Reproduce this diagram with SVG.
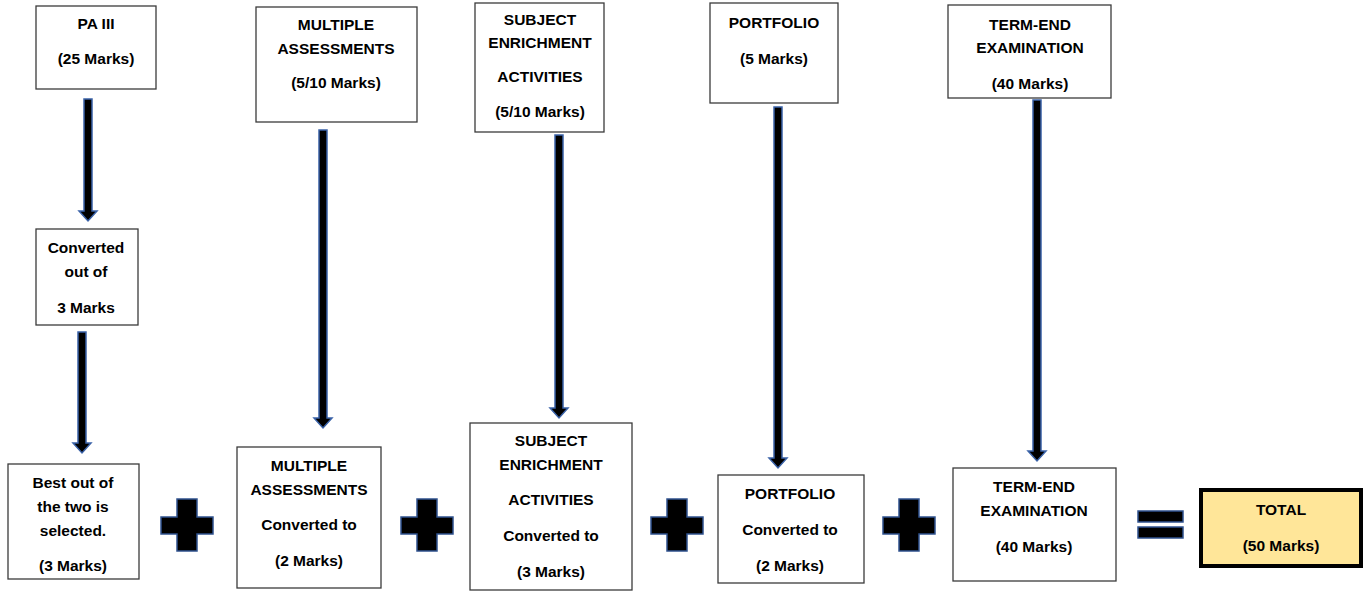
<svg xmlns="http://www.w3.org/2000/svg" width="1364" height="592" viewBox="0 0 1364 592">
<style>
.box{fill:#fff;stroke:#3b3b3b;stroke-width:1.3}
.total{fill:#FFE699;stroke:#000;stroke-width:4}
text{font-family:"Liberation Sans",Arial,sans-serif;font-weight:bold;font-size:15.5px;fill:#000;text-anchor:middle}
.arrow{fill:#000;stroke:#3A62A8;stroke-width:1.5;stroke-linejoin:miter}
.op{fill:#000;stroke:#2F528F;stroke-width:1.5}
</style>
<rect width="1364" height="592" fill="#fff"/>
<g id="connectors">
<polygon class="arrow" points="84,99 92,99 92,211 97,211 88,221 79,211 84,211"/>
<polygon class="arrow" points="78,332 86,332 86,443 91,443 82,453 73,443 78,443"/>
<polygon class="arrow" points="319,130 327,130 327,418 332,418 323,428 314,418 319,418"/>
<polygon class="arrow" points="555,135 563,135 563,408 568,408 559,418 550,408 555,408"/>
<polygon class="arrow" points="774,107 782,107 782,458 787,458 778,468 769,458 774,458"/>
<polygon class="arrow" points="1033,100 1041,100 1041,451 1046,451 1037,461 1028,451 1033,451"/>
</g>
<g id="pa3">
<rect class="box" x="36" y="6" width="120" height="83"/>
<text x="96" y="29">PA III</text>
<text x="96" y="64">(25 Marks)</text>
</g>
<g id="ma">
<rect class="box" x="256" y="7" width="161" height="115"/>
<text x="336" y="30">MULTIPLE</text>
<text x="336" y="54">ASSESSMENTS</text>
<text x="336" y="88">(5/10 Marks)</text>
</g>
<g id="sea">
<rect class="box" x="475" y="3" width="129" height="129"/>
<text x="540" y="25">SUBJECT</text>
<text x="540" y="48">ENRICHMENT</text>
<text x="540" y="82">ACTIVITIES</text>
<text x="540" y="117">(5/10 Marks)</text>
</g>
<g id="portfolio">
<rect class="box" x="710" y="3" width="128" height="100"/>
<text x="774" y="28">PORTFOLIO</text>
<text x="774" y="64">(5 Marks)</text>
</g>
<g id="term">
<rect class="box" x="948" y="5" width="163" height="93"/>
<text x="1030" y="30">TERM-END</text>
<text x="1030" y="53">EXAMINATION</text>
<text x="1030" y="89">(40 Marks)</text>
</g>
<g id="converted">
<rect class="box" x="36" y="229" width="102" height="96"/>
<text x="86" y="253">Converted</text>
<text x="86" y="277">out of</text>
<text x="86" y="313">3 Marks</text>
</g>
<g id="best">
<rect class="box" x="8" y="464" width="131" height="115"/>
<text x="73" y="488">Best out of</text>
<text x="73" y="512">the two is</text>
<text x="73" y="536">selected.</text>
<text x="73" y="571">(3 Marks)</text>
</g>
<g id="ma-conv">
<rect class="box" x="237" y="447" width="144" height="141"/>
<text x="309" y="471">MULTIPLE</text>
<text x="309" y="495">ASSESSMENTS</text>
<text x="309" y="530">Converted to</text>
<text x="309" y="566">(2 Marks)</text>
</g>
<g id="sea-conv">
<rect class="box" x="470" y="423" width="162" height="167"/>
<text x="551" y="446">SUBJECT</text>
<text x="551" y="470">ENRICHMENT</text>
<text x="551" y="505">ACTIVITIES</text>
<text x="551" y="541">Converted to</text>
<text x="551" y="577">(3 Marks)</text>
</g>
<g id="portfolio-conv">
<rect class="box" x="718" y="475" width="146" height="108"/>
<text x="790" y="499">PORTFOLIO</text>
<text x="790" y="535">Converted to</text>
<text x="790" y="571">(2 Marks)</text>
</g>
<g id="term-conv">
<rect class="box" x="953" y="468" width="163" height="113"/>
<text x="1034" y="492">TERM-END</text>
<text x="1034" y="516">EXAMINATION</text>
<text x="1034" y="552">(40 Marks)</text>
</g>
<g id="total">
<rect class="total" x="1201" y="490" width="160" height="76"/>
<text x="1281" y="515">TOTAL</text>
<text x="1281" y="551">(50 Marks)</text>
</g>
<g id="operators">
<polygon class="op" points="177,499 197,499 197,517 213,517 213,534 197,534 197,551 177,551 177,534 161,534 161,517 177,517"/>
<polygon class="op" points="417,499 437,499 437,517 453,517 453,534 437,534 437,551 417,551 417,534 401,534 401,517 417,517"/>
<polygon class="op" points="667,499 687,499 687,517 703,517 703,534 687,534 687,551 667,551 667,534 651,534 651,517 667,517"/>
<polygon class="op" points="899,499 919,499 919,517 935,517 935,534 919,534 919,551 899,551 899,534 883,534 883,517 899,517"/>
<rect class="op" x="1138" y="511" width="45" height="11"/>
<rect class="op" x="1138" y="527" width="45" height="11"/>
</g>
</svg>
